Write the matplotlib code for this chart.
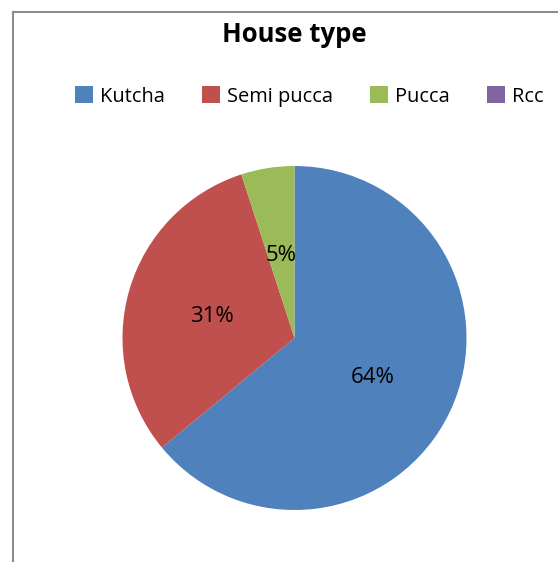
import matplotlib
matplotlib.use("Agg")
import matplotlib.pyplot as plt
from matplotlib.lines import Line2D
from matplotlib.patches import Patch

categories = ["Kutcha", "Semi pucca", "Pucca", "Rcc"]
values = [64, 31, 5, 0]
colors = ["#4F81BD", "#C0504D", "#9BBB59", "#8064A2"]
title = "House type"

plt.rcParams['font.family'] = ['Open Sans', 'DejaVu Sans']

W, H = 558, 562
fig = plt.figure(figsize=(W / 100, H / 100), dpi=100)
fig.patch.set_facecolor("white")

cx, cy, r = 294.5, H - 338, 172
ax = fig.add_axes([(cx - r) / W, (cy - r) / H, 2 * r / W, 2 * r / H])
wedges, texts, autotexts = ax.pie(
    values, colors=colors, startangle=90, counterclock=False, radius=1,
    autopct=lambda p: f"{p:.0f}%" if p > 0.5 else "", pctdistance=0.5,
    textprops=dict(fontsize=16, color="black"),
    wedgeprops=dict(linewidth=0))
for t in autotexts:
    t.set_va("center_baseline")
ax.set_xlim(-1, 1)
ax.set_ylim(-1, 1)
ax.set_aspect("auto")
ax.axis("off")

fig.text(294.5 / W, 1 - 35 / H, title, ha="center", va="center",
         fontsize=18.5, fontweight="bold")

handles = [Patch(facecolor=c, edgecolor="none") for c in colors]
fig.legend(handles, categories, loc="center", ncol=4,
           bbox_to_anchor=(309.5 / W, 1 - 96.5 / H), frameon=False,
           fontsize=14.4, handlelength=0.9, handleheight=0.9,
           handletextpad=0.35, columnspacing=1.85, borderaxespad=0)

border = "#8c8c8c"
fig.add_artist(Line2D([12.5 / W, 12.5 / W], [0, 1 - 11.5 / H], transform=fig.transFigure,
                      color=border, linewidth=1.5))
fig.add_artist(Line2D([12.5 / W, 1], [1 - 11.5 / H, 1 - 11.5 / H], transform=fig.transFigure,
                      color=border, linewidth=1.5))

fig.savefig("out.png", dpi=100)
